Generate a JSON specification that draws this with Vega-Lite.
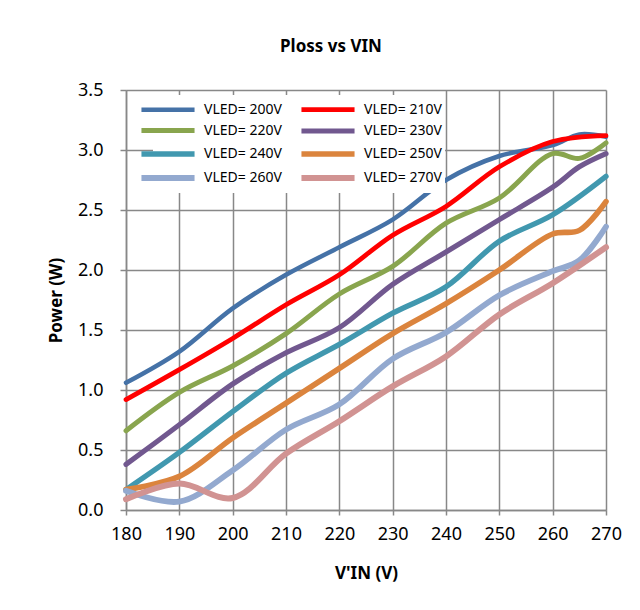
{
  "$schema": "https://vega.github.io/schema/vega-lite/v6.json",
  "width": 480,
  "height": 420,
  "autosize": "none",
  "padding": {"left": 126, "top": 90, "right": 34, "bottom": 100},
  "background": "white",
  "title": {"text": "Ploss vs VIN", "font": "Noto Sans", "fontSize": 17, "fontWeight": "bold", "color": "black", "anchor": "middle", "dx": -35, "baseline": "alphabetic", "offset": 12},
  "data": {"values": [
    {"series": "VLED= 200V", "vin": 180, "ploss": 1.06},
    {"series": "VLED= 200V", "vin": 190, "ploss": 1.32},
    {"series": "VLED= 200V", "vin": 200, "ploss": 1.68},
    {"series": "VLED= 200V", "vin": 210, "ploss": 1.96},
    {"series": "VLED= 200V", "vin": 220, "ploss": 2.19},
    {"series": "VLED= 200V", "vin": 230, "ploss": 2.42},
    {"series": "VLED= 200V", "vin": 240, "ploss": 2.75},
    {"series": "VLED= 200V", "vin": 250, "ploss": 2.95},
    {"series": "VLED= 200V", "vin": 260, "ploss": 3.04},
    {"series": "VLED= 200V", "vin": 265, "ploss": 3.13},
    {"series": "VLED= 200V", "vin": 270, "ploss": 3.11},
    {"series": "VLED= 210V", "vin": 180, "ploss": 0.92},
    {"series": "VLED= 210V", "vin": 190, "ploss": 1.17},
    {"series": "VLED= 210V", "vin": 200, "ploss": 1.43},
    {"series": "VLED= 210V", "vin": 210, "ploss": 1.71},
    {"series": "VLED= 210V", "vin": 220, "ploss": 1.96},
    {"series": "VLED= 210V", "vin": 230, "ploss": 2.29},
    {"series": "VLED= 210V", "vin": 240, "ploss": 2.53},
    {"series": "VLED= 210V", "vin": 250, "ploss": 2.86},
    {"series": "VLED= 210V", "vin": 260, "ploss": 3.07},
    {"series": "VLED= 210V", "vin": 270, "ploss": 3.12},
    {"series": "VLED= 220V", "vin": 180, "ploss": 0.66},
    {"series": "VLED= 220V", "vin": 190, "ploss": 0.98},
    {"series": "VLED= 220V", "vin": 200, "ploss": 1.2},
    {"series": "VLED= 220V", "vin": 210, "ploss": 1.47},
    {"series": "VLED= 220V", "vin": 220, "ploss": 1.8},
    {"series": "VLED= 220V", "vin": 230, "ploss": 2.03},
    {"series": "VLED= 220V", "vin": 240, "ploss": 2.39},
    {"series": "VLED= 220V", "vin": 250, "ploss": 2.6},
    {"series": "VLED= 220V", "vin": 260, "ploss": 2.97},
    {"series": "VLED= 220V", "vin": 265, "ploss": 2.93},
    {"series": "VLED= 220V", "vin": 270, "ploss": 3.06},
    {"series": "VLED= 230V", "vin": 180, "ploss": 0.38},
    {"series": "VLED= 230V", "vin": 190, "ploss": 0.71},
    {"series": "VLED= 230V", "vin": 200, "ploss": 1.05},
    {"series": "VLED= 230V", "vin": 210, "ploss": 1.31},
    {"series": "VLED= 230V", "vin": 220, "ploss": 1.52},
    {"series": "VLED= 230V", "vin": 230, "ploss": 1.88},
    {"series": "VLED= 230V", "vin": 240, "ploss": 2.15},
    {"series": "VLED= 230V", "vin": 250, "ploss": 2.42},
    {"series": "VLED= 230V", "vin": 260, "ploss": 2.69},
    {"series": "VLED= 230V", "vin": 265, "ploss": 2.86},
    {"series": "VLED= 230V", "vin": 270, "ploss": 2.97},
    {"series": "VLED= 240V", "vin": 180, "ploss": 0.17},
    {"series": "VLED= 240V", "vin": 190, "ploss": 0.48},
    {"series": "VLED= 240V", "vin": 200, "ploss": 0.82},
    {"series": "VLED= 240V", "vin": 210, "ploss": 1.14},
    {"series": "VLED= 240V", "vin": 220, "ploss": 1.38},
    {"series": "VLED= 240V", "vin": 230, "ploss": 1.64},
    {"series": "VLED= 240V", "vin": 240, "ploss": 1.86},
    {"series": "VLED= 240V", "vin": 250, "ploss": 2.24},
    {"series": "VLED= 240V", "vin": 260, "ploss": 2.46},
    {"series": "VLED= 240V", "vin": 270, "ploss": 2.78},
    {"series": "VLED= 250V", "vin": 180, "ploss": 0.17},
    {"series": "VLED= 250V", "vin": 190, "ploss": 0.28},
    {"series": "VLED= 250V", "vin": 200, "ploss": 0.6},
    {"series": "VLED= 250V", "vin": 210, "ploss": 0.89},
    {"series": "VLED= 250V", "vin": 220, "ploss": 1.18},
    {"series": "VLED= 250V", "vin": 230, "ploss": 1.47},
    {"series": "VLED= 250V", "vin": 240, "ploss": 1.72},
    {"series": "VLED= 250V", "vin": 250, "ploss": 2.0},
    {"series": "VLED= 250V", "vin": 260, "ploss": 2.3},
    {"series": "VLED= 250V", "vin": 265, "ploss": 2.33},
    {"series": "VLED= 250V", "vin": 270, "ploss": 2.57},
    {"series": "VLED= 260V", "vin": 180, "ploss": 0.16},
    {"series": "VLED= 260V", "vin": 190, "ploss": 0.07},
    {"series": "VLED= 260V", "vin": 200, "ploss": 0.33},
    {"series": "VLED= 260V", "vin": 210, "ploss": 0.67},
    {"series": "VLED= 260V", "vin": 220, "ploss": 0.88},
    {"series": "VLED= 260V", "vin": 230, "ploss": 1.26},
    {"series": "VLED= 260V", "vin": 240, "ploss": 1.48},
    {"series": "VLED= 260V", "vin": 250, "ploss": 1.79},
    {"series": "VLED= 260V", "vin": 260, "ploss": 1.99},
    {"series": "VLED= 260V", "vin": 265, "ploss": 2.08},
    {"series": "VLED= 260V", "vin": 270, "ploss": 2.36},
    {"series": "VLED= 270V", "vin": 180, "ploss": 0.09},
    {"series": "VLED= 270V", "vin": 190, "ploss": 0.22},
    {"series": "VLED= 270V", "vin": 200, "ploss": 0.1},
    {"series": "VLED= 270V", "vin": 210, "ploss": 0.47},
    {"series": "VLED= 270V", "vin": 220, "ploss": 0.74},
    {"series": "VLED= 270V", "vin": 230, "ploss": 1.03},
    {"series": "VLED= 270V", "vin": 240, "ploss": 1.28},
    {"series": "VLED= 270V", "vin": 250, "ploss": 1.63},
    {"series": "VLED= 270V", "vin": 260, "ploss": 1.89},
    {"series": "VLED= 270V", "vin": 270, "ploss": 2.19}
  ]},
  "mark": {"type": "line", "interpolate": "catmull-rom", "strokeCap": "round", "strokeJoin": "round"},
  "encoding": {
    "x": {
      "field": "vin", "type": "quantitative",
      "scale": {"domain": [180, 270], "nice": false, "zero": false},
      "axis": {"values": [180, 190, 200, 210, 220, 230, 240, 250, 260, 270], "title": "V'IN (V)", "tickSize": 5, "labelPadding": 10, "titlePadding": 22, "labelFlush": false}
    },
    "y": {
      "field": "ploss", "type": "quantitative",
      "scale": {"domain": [0, 3.5], "nice": false},
      "axis": {"values": [0, 0.5, 1, 1.5, 2, 2.5, 3, 3.5], "format": ".1f", "title": "Power (W)", "tickSize": 6, "labelPadding": 17, "titlePadding": 12}
    },
    "color": {
      "field": "series", "type": "nominal",
      "scale": {
        "domain": ["VLED= 200V", "VLED= 210V", "VLED= 220V", "VLED= 230V", "VLED= 240V", "VLED= 250V", "VLED= 260V", "VLED= 270V"],
        "range": ["#4572A7", "#FF0000", "#89A54E", "#71588F", "#4198AF", "#DB843D", "#93A9CF", "#D19392"]
      },
      "legend": {
        "orient": "none", "legendX": 27, "legendY": 5, "columns": 2, "direction": "horizontal", "title": null,
        "symbolType": "M-2.95,0H2.95", "symbolSize": 324, "symbolStrokeWidth": 5,
        "labelFont": "Noto Sans", "labelFontSize": 14, "labelColor": "black", "labelOffset": 24,
        "columnPadding": 7, "rowPadding": -1.5, "padding": 3, "fillColor": "white"
      }
    },
    "strokeWidth": {
      "field": "series", "type": "nominal", "legend": null,
      "scale": {
        "domain": ["VLED= 200V", "VLED= 210V", "VLED= 220V", "VLED= 230V", "VLED= 240V", "VLED= 250V", "VLED= 260V", "VLED= 270V"],
        "range": [4.5, 6, 4.5, 4.5, 4.5, 4.5, 4.5, 4.5]
      }
    }
  },
  "config": {
    "view": {"stroke": null},
    "axis": {
      "gridColor": "#888888", "gridWidth": 1.5, "gridOpacity": 1,
      "domainColor": "#888888", "domainWidth": 1.5,
      "tickColor": "#888888", "tickWidth": 1.5,
      "labelFont": "Noto Sans", "labelFontSize": 18, "labelColor": "black",
      "titleFont": "Noto Sans", "titleFontSize": 17, "titleFontWeight": "bold", "titleColor": "black"
    }
  }
}
